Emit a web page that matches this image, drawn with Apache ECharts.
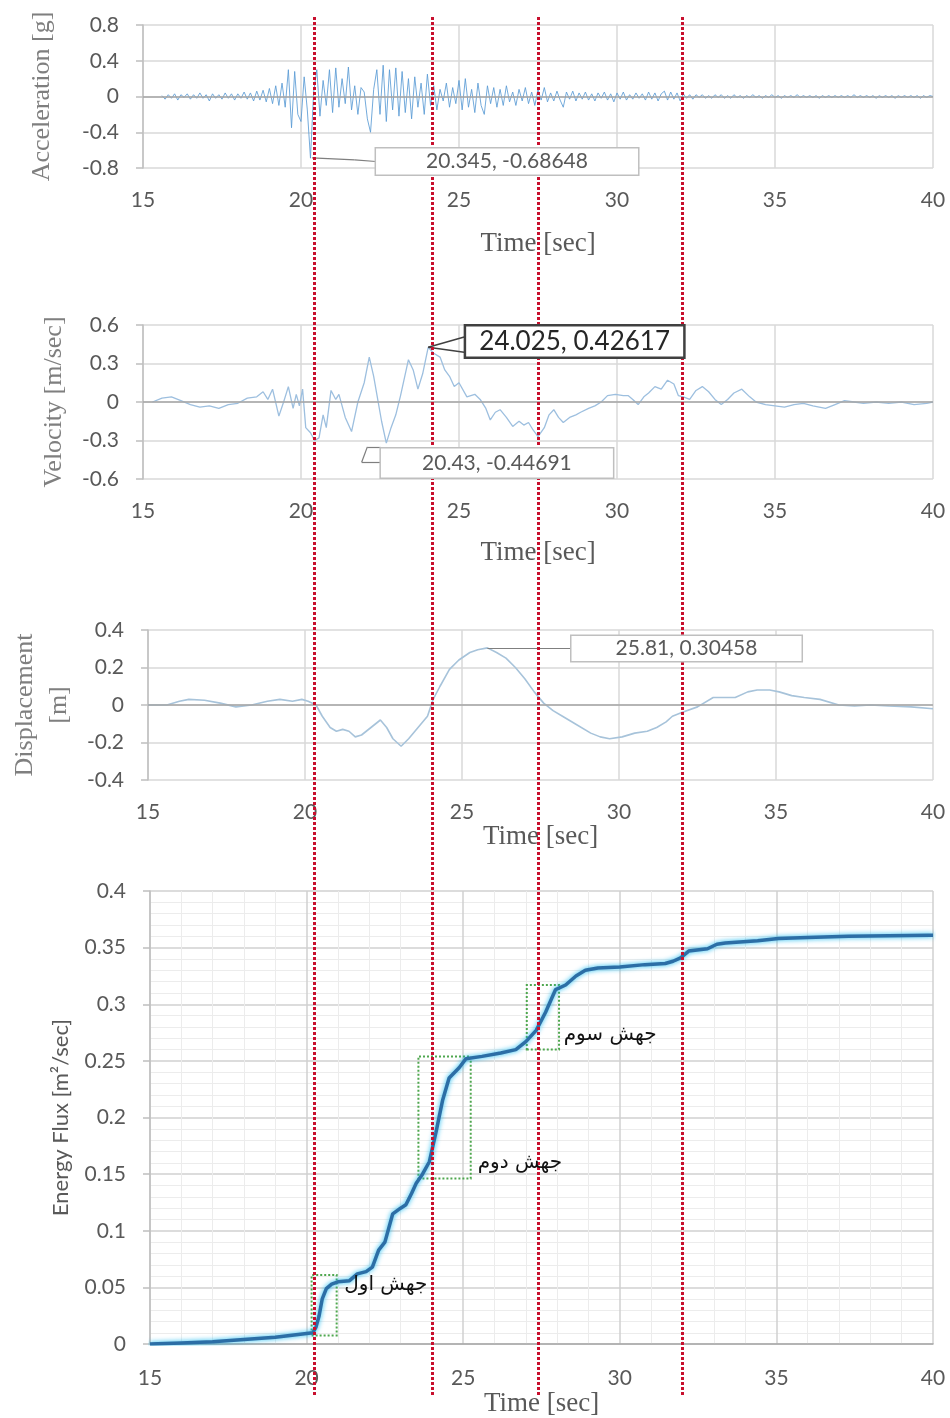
<!DOCTYPE html>
<html>
<head>
<meta charset="utf-8">
<script src="https://cdn.jsdelivr.net/npm/echarts@6/dist/echarts.min.js"></script>
<style>
  html, body { margin: 0; padding: 0; background: #fff; }
  #main { width: 950px; height: 1418px; }
</style>
</head>
<body>
<div id="main"></div>
<script>
// acceleration record, sampled every 0.1 s from 15.6 s
const accStart = 15.6
const accStep = 0.1
const accValues = [
  0.01, -0.03, 0.02, -0.02,
  0.03, -0.04, 0.02, -0.01, 0.03, -0.03, 0.02, -0.02, 0.04, -0.02,
  0.02, -0.05, 0.03, -0.02, 0.02, -0.03, 0.04, -0.02, 0.03, -0.04,
  0.03, -0.02, 0.05, -0.03, 0.04, -0.05, 0.06, -0.04, 0.07, -0.06,
  0.09, -0.08, 0.12, -0.1, 0.15, -0.12, 0.3, -0.35, 0.28, -0.2,
  -0.28, 0.22, -0.15, -0.69, 0.05, 0.3, -0.22, 0.18, -0.1, 0.3,
  -0.18, 0.32, -0.12, 0.2, -0.08, 0.33, -0.15, 0.12, -0.2, 0.1,
  0.05, -0.25, -0.4, 0.08, 0.3, -0.2, 0.35, -0.28, 0.3, -0.15,
  0.32, -0.22, 0.28, -0.18, 0.2, -0.25, 0.22, -0.12, 0.15, -0.2,
  0.25, -0.1, 0.12, -0.15, 0.08, -0.05, 0.15, -0.12, 0.1, -0.08,
  0.18, -0.15, 0.2, -0.12, 0.08, -0.18, 0.15, -0.1, -0.2, 0.12,
  -0.08, 0.1, -0.12, 0.08, -0.1, 0.12, -0.06, 0.05, -0.1, 0.08,
  -0.05, 0.1, -0.08, 0.05, -0.1, 0.08, -0.04, 0.1, -0.06, 0.04,
  -0.05, 0.06, -0.04, -0.12, 0.05, -0.03, 0.06, -0.05, 0.04, -0.03,
  0.05, -0.04, 0.03, -0.05, 0.04, -0.02, 0.05, -0.04, 0.03, -0.06,
  0.04, -0.03, 0.05, -0.04, 0.02, -0.03, 0.04, -0.02, 0.03, -0.04,
  0.05, -0.03, 0.04, -0.05, 0.03, 0.06, -0.04, 0.05, -0.03, 0.04,
  -0.05, 0.03, -0.02, 0.02, -0.03, 0.02, -0.01, 0.02, -0.02, 0.01,
  -0.02, 0.02, -0.01, 0.02, -0.02, 0.01, -0.02, 0.02, -0.01, 0.01,
  -0.02, 0.01, -0.01, 0.02, -0.01, 0.01, -0.02, 0.01, -0.01, 0.02,
  -0.01, 0.01, -0.02, 0.01, -0.01, 0.01, -0.01, 0.02, -0.01, 0.01,
  -0.01, 0.01, -0.01, 0.01, -0.02, 0.01, -0.01, 0.01, -0.01, 0.01,
  -0.01, 0.01, -0.01, 0.01, -0.01, 0.02, -0.01, 0.01, -0.01, 0.01,
  -0.01, 0.01, -0.02, 0.01, -0.01, 0.01, -0.01, 0.01, -0.02, 0.01,
  -0.01, 0.01, -0.01, 0.01, -0.01, 0.01, -0.02, 0.01, -0.01, 0.01,
  0
]

const velTime = [15.3, 15.6, 15.9, 16.2, 16.5, 16.8, 17.1, 17.4, 17.7, 18.0, 18.3, 18.6, 18.8, 18.95, 19.1, 19.3, 19.45, 19.6, 19.75, 19.85, 19.95, 20.05, 20.15, 20.3, 20.43, 20.57, 20.7, 20.8, 20.95, 21.1, 21.2, 21.4, 21.6, 21.8, 22.0, 22.16, 22.3, 22.4, 22.55, 22.7, 22.85, 23.0, 23.15, 23.4, 23.55, 23.7, 23.85, 24.025, 24.2, 24.4, 24.55, 24.7, 24.85, 25.0, 25.25, 25.5, 25.67, 25.85, 25.99, 26.15, 26.3, 26.5, 26.7, 26.9, 27.05, 27.2, 27.35, 27.5, 27.7, 27.85, 28.0, 28.15, 28.3, 28.5, 28.7, 28.85, 29.1, 29.3, 29.5, 29.7, 29.95, 30.2, 30.35, 30.5, 30.67, 30.85, 31.0, 31.2, 31.4, 31.6, 31.8, 31.94, 32.1, 32.3, 32.5, 32.7, 32.9, 33.1, 33.3, 33.5, 33.7, 33.95, 34.2, 34.4, 34.7, 35.0, 35.3, 35.6, 35.9, 36.2, 36.6, 36.9, 37.2, 37.5, 37.8, 38.2, 38.6, 39.0, 39.4, 39.8, 40.0]
const velValue = [0, 0.03, 0.04, 0.01, -0.02, -0.04, -0.03, -0.05, -0.02, -0.01, 0.03, 0.04, 0.08, 0.02, 0.1, -0.11, 0.0, 0.12, -0.05, 0.06, -0.03, 0.1, -0.2, -0.24, -0.3, -0.28, -0.1, -0.2, 0.09, 0.02, 0.06, -0.12, -0.23, 0.0, 0.15, 0.35, 0.2, 0.06, -0.15, -0.32, -0.2, -0.1, 0.05, 0.33, 0.25, 0.1, 0.22, 0.42617, 0.38, 0.35, 0.25, 0.2, 0.12, 0.15, 0.04, 0.06, 0.02, -0.05, -0.14, -0.08, -0.06, -0.12, -0.19, -0.15, -0.18, -0.16, -0.22, -0.27, -0.2, -0.1, -0.06, -0.12, -0.16, -0.12, -0.1, -0.08, -0.05, -0.03, 0.0, 0.05, 0.06, 0.05, 0.05, 0.02, -0.02, 0.04, 0.07, 0.12, 0.1, 0.17, 0.14, 0.05, 0.04, 0.02, 0.09, 0.12, 0.08, 0.02, -0.02, 0.02, 0.07, 0.1, 0.04, 0.0, -0.02, -0.03, -0.04, -0.02, -0.01, -0.03, -0.05, -0.02, 0.01, 0.0, -0.01, 0.0, -0.01, 0.0, -0.02, -0.01, 0]

const dispTime = [15.0, 15.6, 16.0, 16.3, 16.8, 17.3, 17.8, 18.3, 18.8, 19.2, 19.6, 19.9, 20.1, 20.35, 20.55, 20.8, 21.0, 21.2, 21.4, 21.6, 21.8, 22.1, 22.4, 22.6, 22.8, 23.06, 23.3, 23.6, 23.9, 24.08, 24.3, 24.6, 24.9, 25.25, 25.5, 25.81, 26.1, 26.4, 26.7, 27.0, 27.3, 27.6, 27.9, 28.2, 28.6, 29.1, 29.4, 29.7, 30.1, 30.5, 30.9, 31.2, 31.5, 31.7, 32.0, 32.5, 33.0, 33.4, 33.7, 34.1, 34.4, 34.8, 35.1, 35.5, 35.9, 36.4, 37.0, 37.5, 38.0, 38.6, 39.3, 40.0]
const dispValue = [0, 0.0, 0.02, 0.03, 0.025, 0.01, -0.01, 0.0, 0.02, 0.03, 0.02, 0.03, 0.02, 0.0, -0.06, -0.12, -0.14, -0.13, -0.14, -0.17, -0.16, -0.12, -0.08, -0.12, -0.18, -0.22, -0.18, -0.12, -0.06, 0.03, 0.1, 0.19, 0.24, 0.28, 0.295, 0.30458, 0.28, 0.25, 0.2, 0.14, 0.07, 0.01, -0.03, -0.06, -0.1, -0.15, -0.17, -0.18, -0.17, -0.15, -0.14, -0.12, -0.09, -0.06, -0.04, -0.01, 0.04, 0.04, 0.04, 0.07, 0.08, 0.08, 0.07, 0.05, 0.04, 0.03, 0.0, -0.005, 0.0, -0.005, -0.01, -0.02]

const fluxTime = [15, 16, 17, 18, 19, 19.6, 20.2, 20.3, 20.4, 20.5, 20.63, 20.8, 21.0, 21.37, 21.62, 21.9, 22.1, 22.3, 22.5, 22.75, 23.0, 23.17, 23.35, 23.5, 23.7, 23.92, 24.13, 24.34, 24.55, 24.87, 25.09, 25.6, 26.2, 26.68, 27.0, 27.33, 27.63, 27.95, 28.27, 28.6, 28.9, 29.3, 30.0, 30.8, 31.45, 31.7, 31.94, 32.2, 32.8, 33.1, 33.37, 34.4, 35.06, 36.0, 37.3, 39.9, 40]
const fluxValue = [0, 0.001, 0.002, 0.004, 0.006, 0.008, 0.01, 0.015, 0.025, 0.04, 0.049, 0.053, 0.055, 0.056, 0.062, 0.064, 0.068, 0.083, 0.09, 0.115, 0.12, 0.123, 0.133, 0.142, 0.15, 0.161, 0.187, 0.215, 0.235, 0.244, 0.252, 0.254, 0.257, 0.26, 0.267, 0.277, 0.293, 0.313, 0.317, 0.325, 0.33, 0.332, 0.333, 0.335, 0.336, 0.338, 0.341, 0.347, 0.349, 0.353, 0.354, 0.356, 0.358, 0.359, 0.36, 0.361, 0.361]

// dotted red markers across all panels
const splitTimes = [20.25, 24.0, 27.4, 32.0]

// jump regions on the energy curve: [t0, e0, t1, e1]
const jumpNames = ['جهش اول', 'جهش دوم', 'جهش سوم']
const jumpBoxes = [
  [20.16, 0.0076, 20.96, 0.061],
  [23.57, 0.1463, 25.24, 0.254],
  [27.03, 0.26, 28.06, 0.317]
]

// data callouts
const accPeak = [20.345, -0.68648]
const velPeak = [24.025, 0.42617]
const velLow = [20.43, -0.44691]
const dispPeak = [25.81, 0.30458]

const zip = (a, b) => a.map((t, i) => [t, b[i]])
const accData = accValues.map((v, i) => [+(accStart + i * accStep).toFixed(2), v])

const tickFont = { color: '#595959', fontSize: 21, fontFamily: 'Lato' }
const serifName = { color: '#595959', fontSize: 27, fontFamily: 'Liberation Serif' }
const gridLine = { lineStyle: { color: '#d9d9d9', width: 1.5 } }

const xAxisFor = (gridIndex, nameGap, extra) => Object.assign({
  gridIndex: gridIndex,
  type: 'value',
  min: 15,
  max: 40,
  interval: 5,
  axisLine: { show: false },
  axisTick: { show: false },
  splitLine: gridLine,
  axisLabel: Object.assign({ margin: 22 }, tickFont),
  name: 'Time [sec]',
  nameLocation: 'middle',
  nameGap: nameGap,
  nameTextStyle: serifName
}, extra || {})

const yAxisFor = (gridIndex, min, max, interval, name, nameGap, extra) => Object.assign({
  gridIndex: gridIndex,
  type: 'value',
  min: min,
  max: max,
  interval: interval,
  axisLine: { show: true, lineStyle: { color: '#bfbfbf', width: 1.5 } },
  axisTick: { show: true, length: 7, lineStyle: { color: '#bfbfbf', width: 1.5 } },
  splitLine: gridLine,
  axisLabel: Object.assign({ margin: 24 }, tickFont),
  name: name,
  nameLocation: 'middle',
  nameGap: nameGap,
  nameTextStyle: { color: '#7f7f7f', fontSize: 26, fontFamily: 'Liberation Serif', lineHeight: 34 }
}, extra || {})

const zeroLine = { yAxis: 0, lineStyle: { color: '#a6a6a6', width: 1.5, type: 'solid' } }
const leader = (pts, color, width) => pts.slice(1).map((p, i) => [
  { coord: pts[i], lineStyle: { color: color, width: width, type: 'solid' } },
  { coord: p }
])

// white text box centred on a data coordinate
const calloutBox = (coord, size, text, bold) => ({
  coord: coord,
  symbol: 'rect',
  symbolSize: 1,
  itemStyle: { color: 'rgba(0,0,0,0)' },
  label: {
    show: true,
    position: 'inside',
    formatter: text,
    width: size[0],
    height: size[1],
    lineHeight: size[1],
    padding: 0,
    align: 'center',
    verticalAlign: 'middle',
    backgroundColor: '#fff',
    borderColor: bold ? '#404040' : '#bfbfbf',
    borderWidth: bold ? 2.5 : 1.5,
    color: bold ? '#262626' : '#595959',
    fontSize: bold ? 26 : 21,
    fontFamily: 'Lato'
  }
})

var myChart = echarts.init(document.getElementById('main'))

var option = {
  animation: false,
  backgroundColor: '#fff',
  grid: [
    { left: 143, width: 790, top: 25, height: 143 },
    { left: 143, width: 790, top: 325, height: 154 },
    { left: 143, width: 790, top: 630, height: 150 },
    { left: 150, width: 783, top: 891, height: 459 },
    { left: 150, width: 783, top: 15, height: 1380 }
  ],
  xAxis: [
    xAxisFor(0, 62),
    xAxisFor(1, 60),
    xAxisFor(2, 38),
    xAxisFor(3, 36, {
      axisLine: { show: true, onZero: false, lineStyle: { color: '#a6a6a6', width: 1.5 } },
      axisLabel: Object.assign({ margin: 24 }, tickFont),
      splitLine: { lineStyle: { color: '#d0d0d0', width: 1.5 } },
      minorTick: { show: false, splitNumber: 5 },
      minorSplitLine: { show: true, lineStyle: { color: '#ececec', width: 1 } }
    }),
    { gridIndex: 4, type: 'value', min: 15, max: 40, show: false }
  ],
  yAxis: [
    yAxisFor(0, -0.8, 0.8, 0.4, 'Acceleration [g]', 84),
    yAxisFor(1, -0.6, 0.6, 0.3, 'Velocity [m/sec]', 66),
    yAxisFor(2, -0.4, 0.4, 0.2, 'Displacement\n[m]', 63),
    yAxisFor(3, 0, 0.4, 0.05, 'Energy Flux [m\u00b2/sec]', 78, {
      splitLine: { lineStyle: { color: '#d0d0d0', width: 1.5 } },
      minorTick: { show: false, splitNumber: 5 },
      minorSplitLine: { show: true, lineStyle: { color: '#ececec', width: 1 } },
      nameTextStyle: { color: '#595959', fontSize: 22, fontFamily: 'Lato' }
    }),
    { gridIndex: 4, type: 'value', min: 0, max: 1, show: false }
  ],
  series: [
    {
      name: 'Acceleration',
      type: 'line',
      xAxisIndex: 0,
      yAxisIndex: 0,
      showSymbol: false,
      data: accData,
      lineStyle: { color: '#5b9bd5', width: 1, opacity: 0.85 },
      markLine: {
        silent: true,
        symbol: 'none',
        label: { show: false },
        data: [zeroLine].concat(leader([accPeak, [21.7, -0.71], [22.37, -0.727]], '#7f7f7f', 1.2))
      },
      markPoint: {
        silent: true,
        data: [calloutBox([26.52, -0.727], [262, 26], accPeak.join(', '))]
      }
    },
    {
      name: 'Velocity',
      type: 'line',
      xAxisIndex: 1,
      yAxisIndex: 1,
      showSymbol: false,
      data: zip(velTime, velValue),
      lineStyle: { color: '#9dbfdf', width: 1.3 },
      markLine: {
        silent: true,
        symbol: 'none',
        label: { show: false },
        data: [zeroLine]
          .concat(leader([velPeak, [25.22, 0.51]], '#404040', 1.5))
          .concat(leader([velPeak, [25.22, 0.385]], '#404040', 1.5))
          .concat(leader([[22.53, -0.35], [22.1, -0.35], [21.92, -0.47], [22.53, -0.47]], '#7f7f7f', 1.2))
      },
      markPoint: {
        silent: true,
        data: [
          calloutBox([28.66, 0.472], [217, 30], velPeak.join(', '), true),
          calloutBox([26.2, -0.475], [232, 29], velLow.join(', '))
        ]
      }
    },
    {
      name: 'Displacement',
      type: 'line',
      xAxisIndex: 2,
      yAxisIndex: 2,
      showSymbol: false,
      data: zip(dispTime, dispValue),
      lineStyle: { color: '#a7c3da', width: 1.6 },
      markLine: {
        silent: true,
        symbol: 'none',
        label: { show: false },
        data: [zeroLine].concat(leader([dispPeak, [28.51, 0.30458]], '#7f7f7f', 1.2))
      },
      markPoint: {
        silent: true,
        data: [calloutBox([32.15, 0.301], [230, 25], dispPeak.join(', '))]
      }
    },
    {
      name: 'Energy Flux',
      type: 'line',
      xAxisIndex: 3,
      yAxisIndex: 3,
      showSymbol: false,
      data: zip(fluxTime, fluxValue),
      lineStyle: { color: '#2c6ea6', width: 3.5, shadowColor: 'rgba(0,180,240,0.9)', shadowBlur: 5 },
      markArea: {
        silent: true,
        itemStyle: { color: 'rgba(0,0,0,0)', borderColor: '#4fa74f', borderWidth: 2, borderType: 'dotted' },
        data: jumpBoxes.map(b => [{ coord: [b[0], b[1]] }, { coord: [b[2], b[3]] }])
      },
      markPoint: {
        silent: true,
        symbol: 'rect',
        symbolSize: 1,
        itemStyle: { color: 'rgba(0,0,0,0)' },
        label: { show: true, position: 'inside', formatter: '{b}', color: '#111', fontSize: 20, fontFamily: 'DejaVu Sans' },
        data: [
          { name: jumpNames[0], coord: [22.53, 0.052] },
          { name: jumpNames[1], coord: [26.81, 0.16] },
          { name: jumpNames[2], coord: [29.69, 0.273] }
        ]
      }
    },
    {
      name: 'split',
      type: 'line',
      xAxisIndex: 4,
      yAxisIndex: 4,
      z: 10,
      data: [],
      markLine: {
        silent: true,
        symbol: 'none',
        label: { show: false },
        lineStyle: { color: '#c8102e', width: 3, type: [3, 2] },
        data: splitTimes.map(t => ({ xAxis: t }))
      }
    }
  ]
}

myChart.setOption(option)
window.addEventListener('resize', () => {
  myChart.resize()
})
</script>
</body>
</html>
